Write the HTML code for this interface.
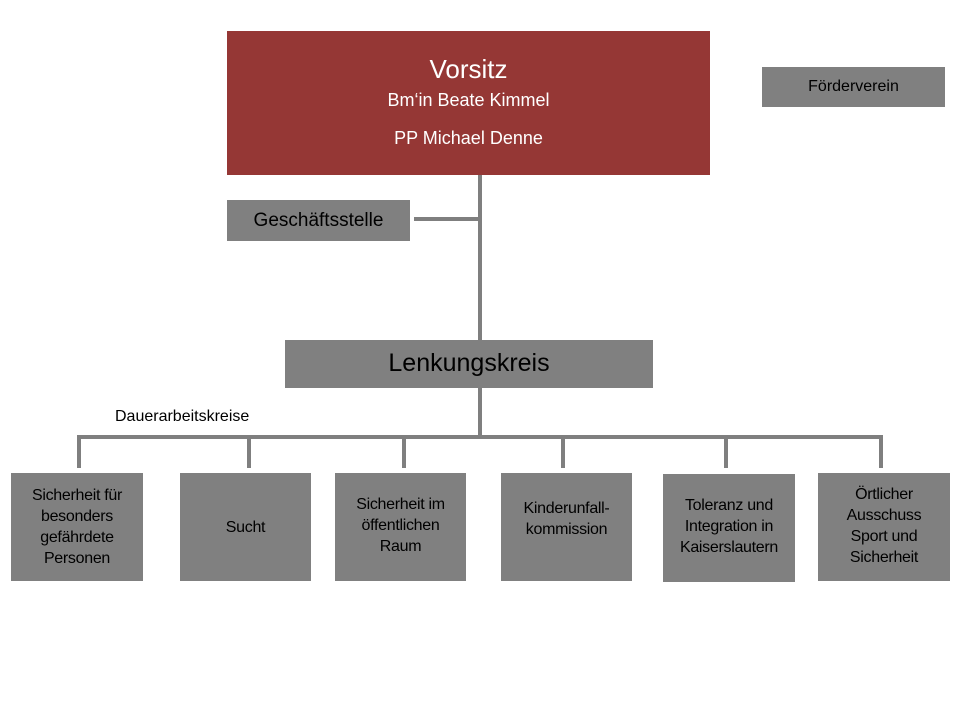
<!DOCTYPE html>
<html><head><meta charset="utf-8"><style>
body{margin:0;width:960px;height:720px;background:#fff;position:relative;overflow:hidden;font-family:"Liberation Sans",sans-serif}
.b{position:absolute;background:#808080;color:#000;display:flex;align-items:center;justify-content:center;text-align:center;line-height:1.25}
.l{position:absolute;background:#7f7f7f}
.s{font-size:16px;line-height:21px;letter-spacing:-0.3px}
</style></head><body>
<div class="b" style="left:227px;top:31px;width:483px;height:144px;background:#953735;color:#fff;flex-direction:column">
<div style="font-size:26px;margin-top:-4px">Vorsitz</div>
<div style="font-size:18px;margin-top:4px">Bm‘in Beate Kimmel</div>
<div style="font-size:18px;margin-top:15px">PP Michael Denne</div>
</div>
<div class="b" style="left:762px;top:67px;width:183px;height:40px;font-size:16px">Förderverein</div>
<div class="b" style="left:227px;top:200px;width:183px;height:41px;font-size:19px">Geschäftsstelle</div>
<div class="l" style="left:478px;top:175px;width:4px;height:165px"></div>
<div class="l" style="left:414px;top:217px;width:66px;height:4px"></div>
<div class="b" style="left:285px;top:340px;width:368px;height:48px;font-size:25px">Lenkungskreis</div>
<div class="l" style="left:478px;top:388px;width:4px;height:50px"></div>
<div class="l" style="left:77px;top:435px;width:806px;height:4px"></div>
<div style="position:absolute;left:115px;top:408px;font-size:16px">Dauerarbeitskreise</div>
<div class="l" style="left:77px;top:435px;width:4px;height:33px"></div>
<div class="l" style="left:247px;top:435px;width:4px;height:33px"></div>
<div class="l" style="left:402px;top:435px;width:4px;height:33px"></div>
<div class="l" style="left:561px;top:435px;width:4px;height:33px"></div>
<div class="l" style="left:724px;top:435px;width:4px;height:33px"></div>
<div class="l" style="left:879px;top:435px;width:4px;height:33px"></div>
<div class="b s" style="left:11px;top:473px;width:132px;height:108px">Sicherheit für<br>besonders<br>gefährdete<br>Personen</div>
<div class="b s" style="left:180px;top:473px;width:131px;height:108px">Sucht</div>
<div class="b s" style="left:335px;top:473px;width:131px;height:108px;padding-bottom:4px;box-sizing:border-box">Sicherheit im<br>öffentlichen<br>Raum</div>
<div class="b s" style="left:501px;top:473px;width:131px;height:108px;padding-bottom:16px;box-sizing:border-box">Kinderunfall-<br>kommission</div>
<div class="b s" style="left:663px;top:474px;width:132px;height:108px;padding-bottom:4px;box-sizing:border-box">Toleranz und<br>Integration in<br>Kaiserslautern</div>
<div class="b s" style="left:818px;top:473px;width:132px;height:108px;padding-bottom:2px;box-sizing:border-box">Örtlicher<br>Ausschuss<br>Sport und<br>Sicherheit</div>
</body></html>
